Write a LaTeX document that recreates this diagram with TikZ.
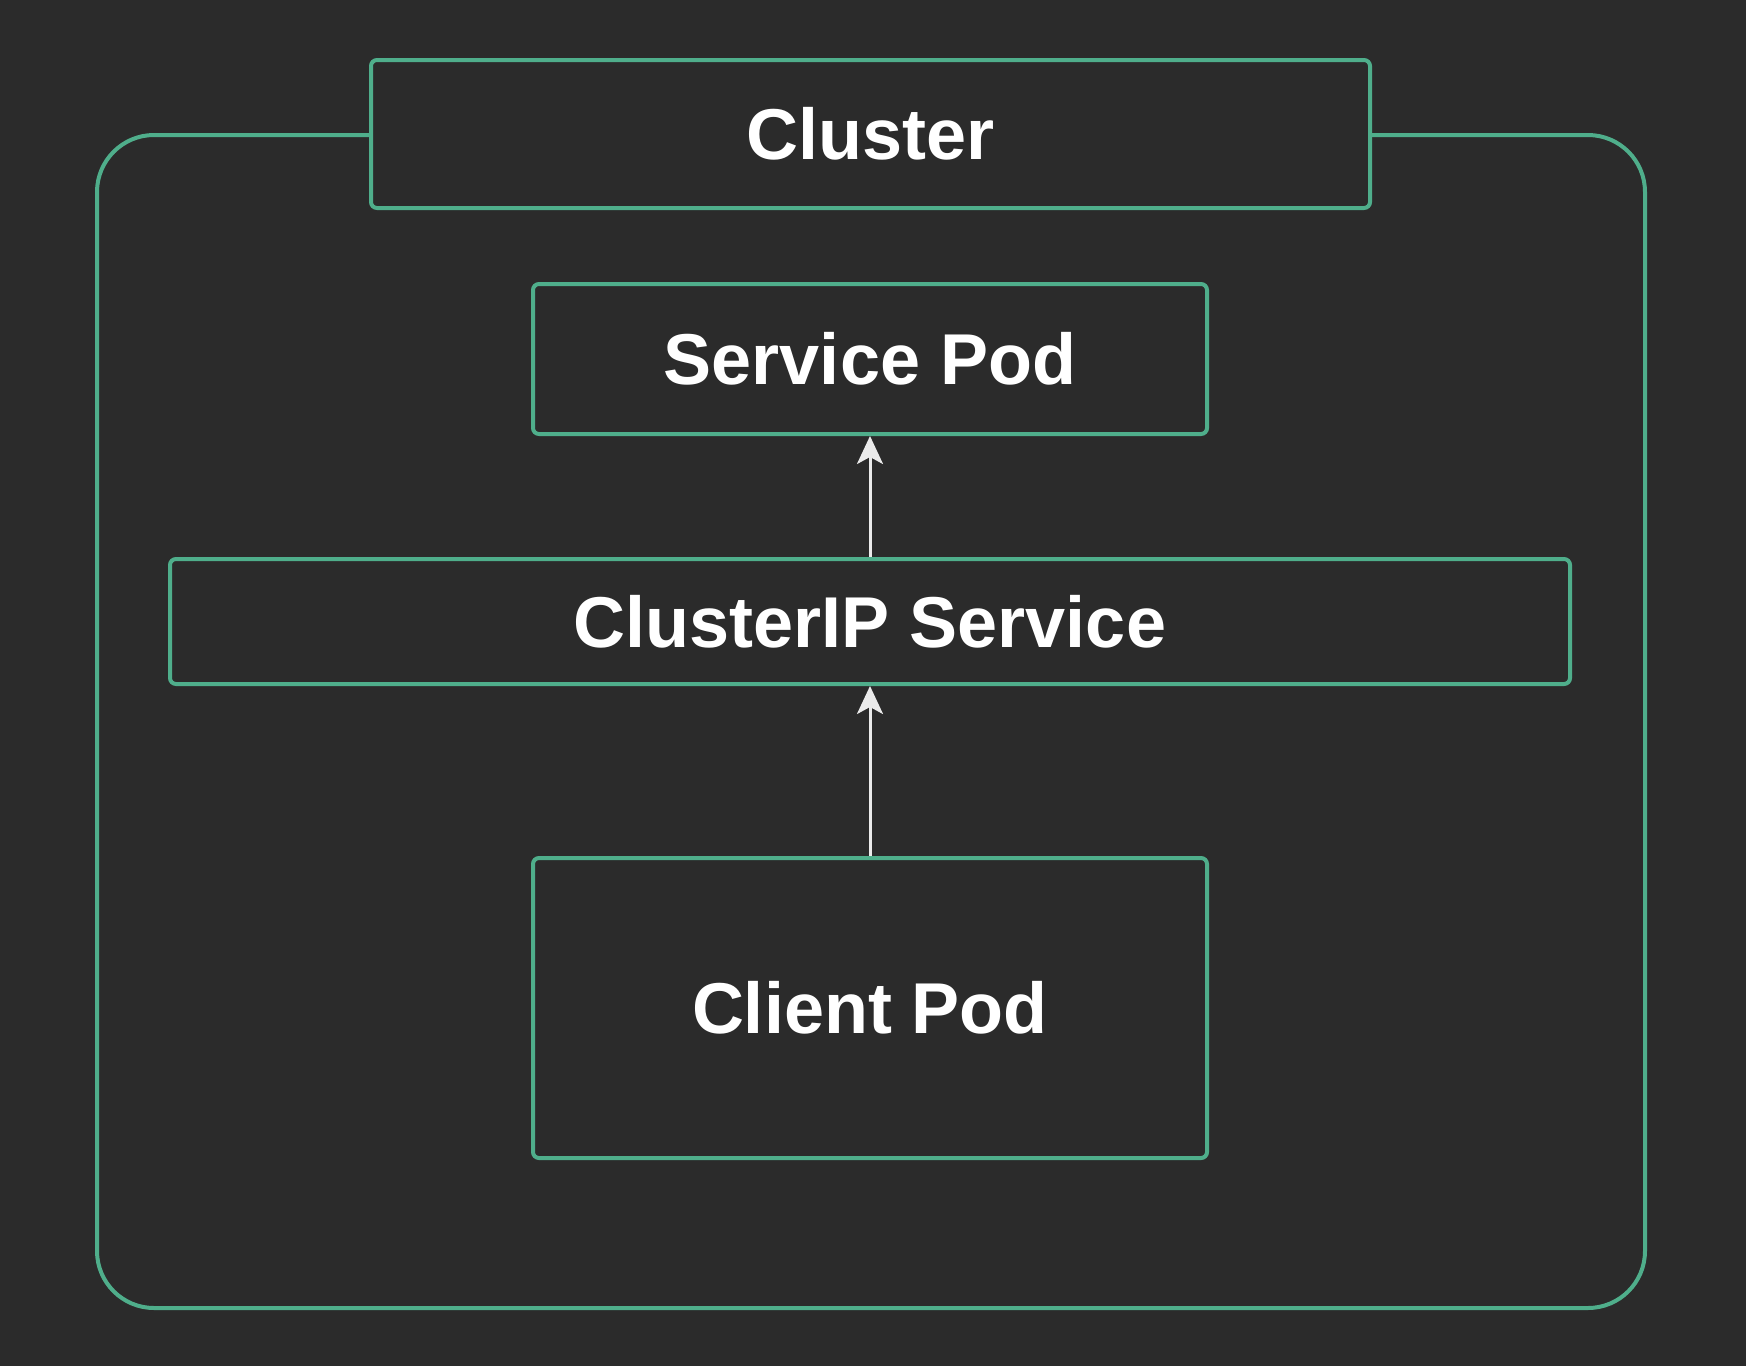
\documentclass[tikz,border=0pt]{standalone}
\usepackage{fontspec}
\setmainfont{Liberation Sans}
\usetikzlibrary{arrows.meta}
\definecolor{bgc}{HTML}{2B2B2B}
\definecolor{grn}{HTML}{4FAE8B}
\begin{document}
\begin{tikzpicture}[x=1pt,y=-1pt,
  box/.style={draw=grn,line width=4pt,rounded corners=6pt},
  lbl/.style={text=white,font=\fontsize{72}{80}\selectfont\bfseries,inner sep=0pt},
  flow/.style={draw=white!92!black,line width=3pt,-{Stealth[length=28pt,width=26pt,inset=7pt]}}]
\fill[bgc] (0,0) rectangle (1746,1366);
\useasboundingbox (0,0) rectangle (1746,1366);
% outer cluster frame
\draw[box,rounded corners=57pt] (371,135) -- (97,135) -- (97,1308) -- (1645,1308) -- (1645,135) -- (1370,135);
\draw[box,fill=bgc] (371,60) rectangle (1370,208);
\node[lbl] (cl) at (870.5,134) {Cluster};
\draw[box] (533,284) rectangle (1207,434);
\node[lbl] (sp) at (870,359) {Service Pod};
\draw[box] (170,559) rectangle (1570,684);
\node[lbl] (ip) at (870,621.5) {ClusterIP Service};
\draw[box] (533,858) rectangle (1207,1158);
\node[lbl] (cp) at (870,1008) {Client Pod};
\coordinate (spb) at (870,436);
\coordinate (ipt) at (870,557);
\coordinate (ipb) at (870,686);
\coordinate (cpt) at (870,856);
\draw[flow] (ipt) -- (spb);
\draw[flow] (cpt) -- (ipb);
\end{tikzpicture}
\end{document}
